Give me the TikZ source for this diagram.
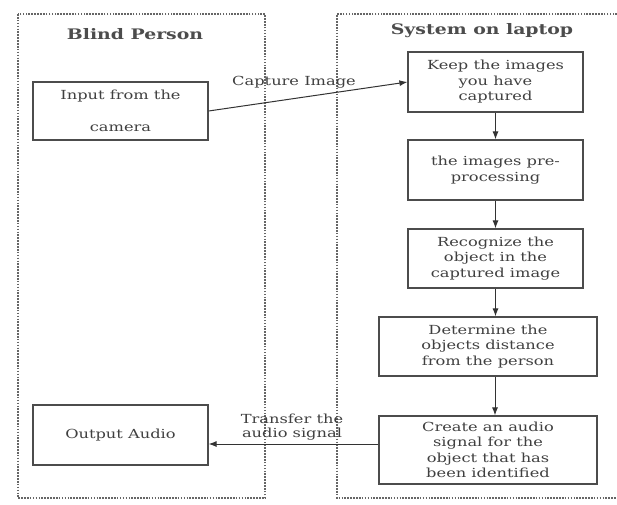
\documentclass[tikz,border=0pt]{standalone}
\usepackage{fontspec}
\setmainfont[FakeStretch=1.3]{DejaVu Serif}
\usetikzlibrary{arrows.meta}
\begin{document}
\begin{tikzpicture}[x=1pt,y=-1pt,
  box/.style={draw=black!70, line width=1.2pt, align=center, inner sep=0pt,
    font=\fontsize{12.5}{15.5}\selectfont, text=black!75},
  panel/.style={draw=black!60, line width=1.1pt, dash pattern=on 1.6pt off 1.3pt},
  arr/.style={-{Latex[length=8pt,width=6pt]}, draw=black!80, line width=1pt},
  lbl/.style={font=\fontsize{12.5}{14.5}\selectfont, text=black!75, align=center, inner sep=0pt},
  ttl/.style={font=\fontsize{14.5}{16}\selectfont\bfseries, text=black!70, inner sep=0pt}]
\useasboundingbox (0,0) rectangle (617,504);
\fill[white] (0,0) rectangle (617,504);
% panels
\draw[panel] (18,14) rectangle (265,498);
\draw[panel] (617,14) -- (337,14) -- (337,498) -- (617,498);
\node[ttl] (tl) at (135,34) {Blind Person};
\node[ttl] (tr) at (482,31) {System on laptop};
% boxes
\node[box, minimum width=175, minimum height=58] (in) at (120.5,111) {Input from the\\[17pt]camera};
\node[box, minimum width=175, minimum height=60] (keep) at (495.5,82) {Keep the images\\you have\\captured};
\node[box, minimum width=175, minimum height=60] (pre) at (495.5,170) {the images pre-\\processing};
\node[box, minimum width=175, minimum height=59] (rec) at (495.5,258.5) {Recognize the\\object in the\\captured image};
\node[box, minimum width=218, minimum height=59] (det) at (488,346.5) {Determine the\\objects distance\\from the person};
\node[box, minimum width=218, minimum height=68] (cre) at (488,450) {Create an audio\\signal for the\\object that has\\been identified};
\node[box, minimum width=175, minimum height=60] (out) at (120.5,435) {Output Audio};
% connectors
\draw[arr] (in.east) -- (keep.west);
\node[lbl] (cap) at (294,82) {Capture Image};
\draw[arr] (keep.south) -- (pre.north);
\draw[arr] (pre.south) -- (rec.north);
\draw[arr] (rec.south) -- (rec.south |- det.north);
\draw[arr] ([xshift=7pt]det.south) -- ([xshift=7pt]cre.north);
\draw[arr] ([yshift=6pt]cre.west) -- ([yshift=-9pt]out.east);
\node[lbl] (tra) at (292,427) {Transfer the\\audio signal};
\end{tikzpicture}
\end{document}
